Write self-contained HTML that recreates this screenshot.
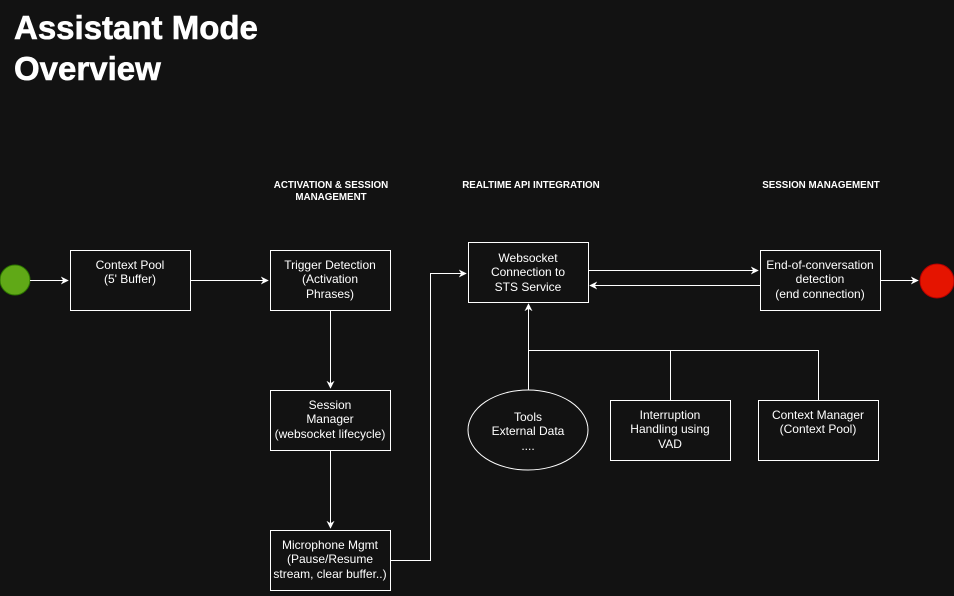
<!DOCTYPE html>
<html><head><style>
body{margin:0;background:#121212;width:954px;height:591px;overflow:hidden}
svg text{font-family:"Liberation Sans",Arial,sans-serif;fill:#fff}
</style></head><body>
<svg width="954" height="591" viewBox="0 0 954 591" xmlns="http://www.w3.org/2000/svg">
<defs><marker id="a" viewBox="0 0 10 10" refX="9" refY="5" markerWidth="8" markerHeight="8" orient="auto"><path d="M0,0 L10,5 L0,10 L3,5 Z" fill="#fff"/></marker></defs>
<text x="14" y="39" font-size="33" font-weight="bold" stroke="#fff" stroke-width="0.6">Assistant Mode</text>
<text x="14" y="80" font-size="33" font-weight="bold" stroke="#fff" stroke-width="0.6">Overview</text>
<g font-size="9.8" font-weight="bold" text-anchor="middle">
<text x="331" y="188">ACTIVATION &amp; SESSION</text><text x="331" y="200">MANAGEMENT</text>
<text x="531" y="188">REALTIME API INTEGRATION</text>
<text x="821" y="188">SESSION MANAGEMENT</text></g>
<g stroke="#fff" stroke-width="1" fill="none">
<circle cx="15" cy="280" r="15" fill="#60a917" stroke="#2d7600"/>
<circle cx="937" cy="281" r="17" fill="#e51400" stroke="#b20000"/>
<rect x="70.5" y="250.5" width="120" height="60"/>
<rect x="270.5" y="250.5" width="120" height="60"/>
<rect x="270.5" y="390.5" width="120" height="60"/>
<rect x="270.5" y="530.5" width="120" height="60"/>
<rect x="468.5" y="242.5" width="120" height="60"/>
<rect x="760.5" y="250.5" width="120" height="60"/>
<rect x="610.5" y="400.5" width="120" height="60"/>
<rect x="758.5" y="400.5" width="120" height="60"/>
<ellipse cx="528" cy="430" rx="60" ry="40"/>
<path d="M30,280.5H68" marker-end="url(#a)"/>
<path d="M190,280.5H268" marker-end="url(#a)"/>
<path d="M330.5,310V388" marker-end="url(#a)"/>
<path d="M330.5,450V528" marker-end="url(#a)"/>
<path d="M390,560.5H430.5V273.5H466" marker-end="url(#a)"/>
<path d="M588,270.5H758" marker-end="url(#a)"/>
<path d="M760,285.5H590" marker-end="url(#a)"/>
<path d="M880,280.5H918" marker-end="url(#a)"/>
<path d="M528.5,390V304" marker-end="url(#a)"/>
<path d="M528.5,350.5H818.5V400M670.5,350.5V400"/>
</g>
<g font-size="12" text-anchor="middle">
<text x="130" y="269">Context Pool</text><text x="130" y="283">(5' Buffer)</text>
<text x="330" y="269">Trigger Detection</text><text x="330" y="283">(Activation</text><text x="330" y="298">Phrases)</text>
<text x="330" y="409">Session</text><text x="330" y="423">Manager</text><text x="330" y="438">(websocket lifecycle)</text>
<text x="330" y="549">Microphone Mgmt</text><text x="330" y="563">(Pause/Resume</text><text x="330" y="578">stream, clear buffer..)</text>
<text x="528" y="262">Websocket</text><text x="528" y="276">Connection to</text><text x="528" y="291">STS Service</text>
<text x="820" y="269">End-of-conversation</text><text x="820" y="283">detection</text><text x="820" y="298">(end connection)</text>
<text x="528" y="421">Tools</text><text x="528" y="435">External Data</text><text x="528" y="450">....</text>
<text x="670" y="419">Interruption</text><text x="670" y="433">Handling using</text><text x="670" y="448">VAD</text>
<text x="818" y="419">Context Manager</text><text x="818" y="433">(Context Pool)</text>
</g>
</svg>
</body></html>
